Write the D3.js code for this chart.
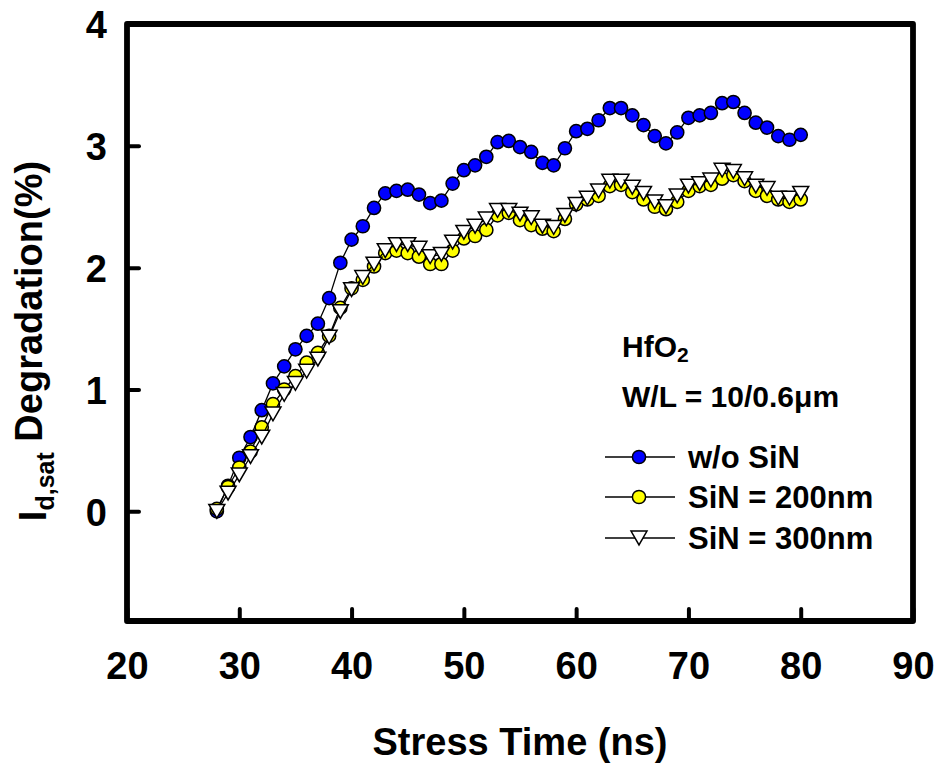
<!DOCTYPE html>
<html>
<head>
<meta charset="utf-8">
<script src="https://cdn.jsdelivr.net/npm/d3@7"></script>
<style>
html,body{margin:0;padding:0;background:#fff;}
svg{display:block;}
text{font-family:"Liberation Sans",Arial,sans-serif;font-weight:bold;fill:#000;}
</style>
</head>
<body>
<svg id="chart" width="943" height="763"></svg>
<script>
// ---- data ----
const stressTime = [28,29,30,31,32,33,34,35,36,37,38,39,40,41,42,43,44,45,46,47,48,49,50,51,52,53,54,55,56,57,58,59,60,61,62,63,64,65,66,67,68,69,70,71,72,73,74,75,76,77,78,79,80];
const woSiN = [0.00,0.21,0.44,0.61,0.83,1.05,1.19,1.33,1.44,1.54,1.75,2.04,2.23,2.34,2.49,2.61,2.63,2.64,2.60,2.53,2.55,2.69,2.80,2.84,2.91,3.03,3.04,2.99,2.95,2.86,2.84,2.98,3.12,3.14,3.21,3.31,3.31,3.25,3.17,3.08,3.02,3.11,3.23,3.25,3.27,3.35,3.36,3.27,3.19,3.15,3.08,3.05,3.09];
const siN200 = [0.02,0.20,0.36,0.49,0.69,0.88,1.00,1.11,1.22,1.30,1.44,1.67,1.83,1.90,2.01,2.12,2.14,2.12,2.09,2.03,2.03,2.14,2.24,2.26,2.31,2.43,2.45,2.39,2.35,2.32,2.30,2.40,2.52,2.56,2.59,2.67,2.68,2.62,2.56,2.50,2.48,2.54,2.63,2.67,2.68,2.73,2.76,2.71,2.63,2.59,2.56,2.54,2.56];
const siN300 = [0.00,0.15,0.30,0.45,0.61,0.80,0.96,1.05,1.15,1.25,1.43,1.64,1.82,1.92,2.03,2.14,2.19,2.19,2.16,2.09,2.11,2.21,2.29,2.34,2.40,2.47,2.47,2.44,2.41,2.34,2.33,2.43,2.52,2.57,2.63,2.71,2.71,2.66,2.61,2.54,2.50,2.59,2.67,2.69,2.72,2.80,2.79,2.73,2.67,2.65,2.57,2.57,2.61];
const xTicks = [20,30,40,50,60,70,80,90];
const yTicks = [0,1,2,3,4];
const seriesNames = ["w/o SiN","SiN = 200nm","SiN = 300nm"];
const seriesColors = ["#0000ff","#ffff00","#ffffff"];
const seriesShapes = ["circle","circle","triangle"];

// ---- layout ----
const svg = d3.select("#chart");
const L = 127, R = 913, T = 24, B = 621;
const x = d3.scaleLinear().domain([20,90]).range([L,R]);
const y = d3.scaleLinear().domain([-0.9,4]).range([B,T]);

// frame
svg.append("rect").attr("x",L).attr("y",T).attr("width",R-L).attr("height",B-T)
  .attr("fill","none").attr("stroke","#000").attr("stroke-width",5.8).attr("stroke-linejoin","round");

// axes
const xAxis = d3.axisBottom(x).tickValues(xTicks).tickFormat(d3.format("d")).tickSize(-12).tickSizeOuter(0).tickPadding(31);
const gx = svg.append("g").attr("transform",`translate(0,${B})`).call(xAxis);
const yAxis = d3.axisLeft(y).tickValues(yTicks).tickFormat(d3.format("d")).tickSize(-12).tickSizeOuter(0).tickPadding(20);
const gy = svg.append("g").attr("transform",`translate(${L},0)`).call(yAxis);
[gx,gy].forEach(g=>{
  g.select(".domain").remove();
  g.selectAll(".tick line").attr("stroke","#000").attr("stroke-width",4).attr("stroke-linecap","round");
  g.selectAll(".tick text").style("font-family","'Liberation Sans',Arial,sans-serif")
    .style("font-weight","bold").style("font-size","38px").attr("fill","#000");
});
gx.selectAll(".tick text").attr("dy","0.72em");
gy.selectAll(".tick text").attr("dy","0.36em");

// axis titles
svg.append("text").attr("x",(L+R)/2).attr("y",755).attr("text-anchor","middle")
  .style("font-size","38px").text("Stress Time (ns)");
const yl = svg.append("text").attr("transform","rotate(-90)").attr("x",-341).attr("y",46)
  .attr("text-anchor","middle").style("font-size","38px");
yl.append("tspan").text("I");
yl.append("tspan").attr("dy","0.3em").style("font-size","25px").text("d,sat");
yl.append("tspan").attr("dy","-0.3em").text(" Degradation(%)");

// series
const series = [woSiN, siN200, siN300];
const line = d3.line().x(d=>x(d[0])).y(d=>y(d[1]));
function tri(cx,cy,s){ // downward triangle
  const h = s*0.95, w = s*1.1;
  return `M${cx-w/2},${cy-h/2}L${cx+w/2},${cy-h/2}L${cx},${cy+h/2}Z`;
}
series.forEach((vals,i)=>{
  const pts = stressTime.map((t,j)=>[t,vals[j]]);
  const g = svg.append("g");
  g.append("path").attr("d",line(pts)).attr("fill","none").attr("stroke","#000").attr("stroke-width",1.3);
  if(seriesShapes[i]==="circle"){
    g.selectAll("circle").data(pts).enter().append("circle")
      .attr("cx",d=>x(d[0])).attr("cy",d=>y(d[1])).attr("r",6.6)
      .attr("fill",seriesColors[i]).attr("stroke","#000").attr("stroke-width",1.5);
  } else {
    g.selectAll("path.m").data(pts).enter().append("path").attr("class","m")
      .attr("d",d=>tri(x(d[0]),y(d[1]),14.5))
      .attr("fill",seriesColors[i]).attr("stroke","#000").attr("stroke-width",1.5).attr("stroke-linejoin","miter");
  }
});

// annotation
const a1 = svg.append("text").attr("x",622).attr("y",357).style("font-size","30px");
a1.append("tspan").text("HfO");
a1.append("tspan").attr("dy","0.25em").style("font-size","21px").text("2");
svg.append("text").attr("x",622).attr("y",407).style("font-size","30px").text("W/L = 10/0.6μm");

// legend
const legY = [457,497,538];
seriesNames.forEach((n,i)=>{
  const cy = legY[i];
  svg.append("line").attr("x1",605).attr("x2",675).attr("y1",cy).attr("y2",cy)
    .attr("stroke","#000").attr("stroke-width",1.3);
  if(seriesShapes[i]==="circle"){
    svg.append("circle").attr("cx",639).attr("cy",cy).attr("r",6.6)
      .attr("fill",seriesColors[i]).attr("stroke","#000").attr("stroke-width",1.5);
  } else {
    svg.append("path").attr("d",tri(639,cy,14.5))
      .attr("fill",seriesColors[i]).attr("stroke","#000").attr("stroke-width",1.5);
  }
  svg.append("text").attr("x",688).attr("y",cy+11).style("font-size","31px").text(n);
});
</script>
</body>
</html>
